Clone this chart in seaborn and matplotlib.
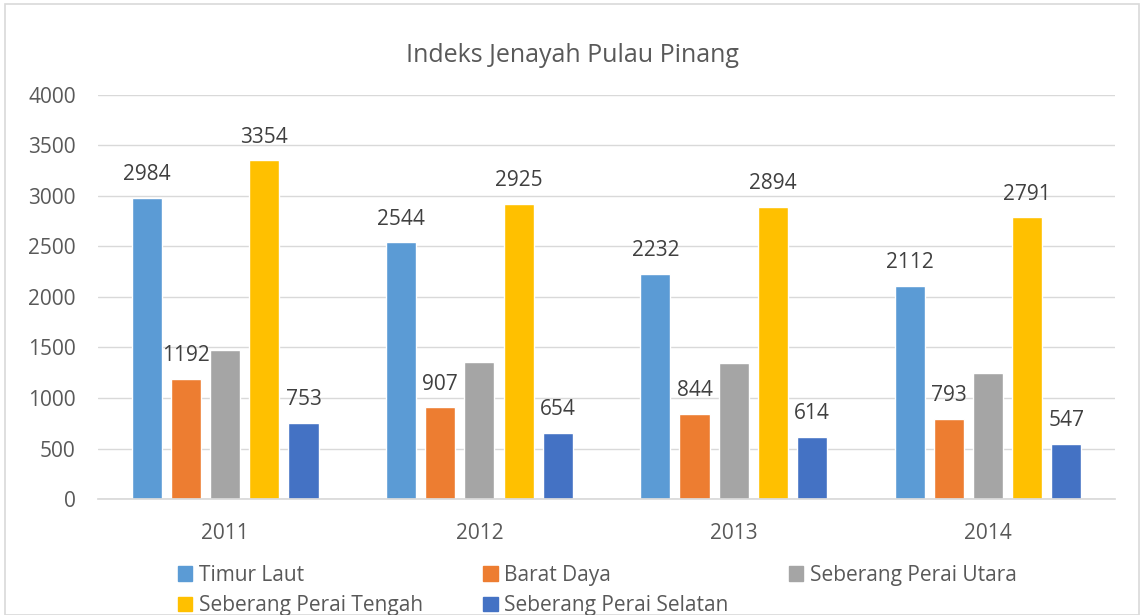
import matplotlib
matplotlib.use("Agg")
import matplotlib.pyplot as plt
import seaborn as sns
import pandas as pd
from matplotlib.patches import Rectangle

years = ["2011", "2012", "2013", "2014"]
series = ["Timur Laut", "Barat Daya", "Seberang Perai Utara",
          "Seberang Perai Tengah", "Seberang Perai Selatan"]
timur_laut = [2984, 2544, 2232, 2112]
barat_daya = [1192, 907, 844, 793]
sp_utara = [1475, 1355, 1350, 1245]
sp_tengah = [3354, 2925, 2894, 2791]
sp_selatan = [753, 654, 614, 547]
show_labels = [True, True, False, True, True]
colors = ["#5B9BD5", "#ED7D31", "#A5A5A5", "#FFC000", "#4472C4"]

values = [timur_laut, barat_daya, sp_utara, sp_tengah, sp_selatan]
df = pd.DataFrame({
    "Tahun": [y for s in series for y in years],
    "Kawasan": [s for s in series for _ in years],
    "Nilai": [v for vals in values for v in vals],
})

sns.set_theme(style="white")
plt.rcParams["font.family"] = ["Open Sans", "DejaVu Sans"]

fig = plt.figure(figsize=(11.44, 6.15), dpi=100)
ax = fig.add_axes([0.0857, 0.1886, 0.889, 0.657])

sns.barplot(data=df, x="Tahun", y="Nilai", hue="Kawasan", order=years,
            hue_order=series, palette=colors, width=0.77, gap=0.23,
            saturation=1, ax=ax, legend=False, errorbar=None)

for cont, show in zip(ax.containers, show_labels):
    if show:
        ax.bar_label(cont, padding=9, fontsize=15, color="#404040")

ax.set_ylim(0, 4000)
ax.set_yticks(range(0, 4001, 500))
ax.set_xlim(-0.5, 3.5)
ax.set_xlabel("")
ax.set_ylabel("")
ax.grid(axis="y", color="#D9D9D9", linewidth=1)
ax.set_axisbelow(True)
for s in ["top", "right", "left"]:
    ax.spines[s].set_visible(False)
ax.spines["bottom"].set_color("#D9D9D9")
ax.tick_params(axis="both", length=0, labelsize=15, colors="#595959")
ax.tick_params(axis="x", pad=17)
ax.tick_params(axis="y", pad=16)

fig.text(0.5, 0.91, "Indeks Jenayah Pulau Pinang", ha="center", va="center",
         fontsize=18, color="#595959")

# row-major order for a 3-column legend
order = [0, 3, 1, 4, 2]
handles = [Rectangle((0, 0), 1, 1, color=colors[i]) for i in order]
labels = [series[i] for i in order]
fig.legend(handles, labels, loc="center", bbox_to_anchor=(0.522, 0.04), ncol=3,
           frameon=False, fontsize=15, labelcolor="#595959",
           handlelength=0.7, handleheight=0.7, handletextpad=0.3,
           columnspacing=2.9, labelspacing=0.45)

fig.patches.append(Rectangle((0.004, 0.0), 0.992, 0.994, transform=fig.transFigure,
                             fill=False, edgecolor="#D9D9D9", linewidth=1.2))

fig.savefig("out.png", dpi=100)
